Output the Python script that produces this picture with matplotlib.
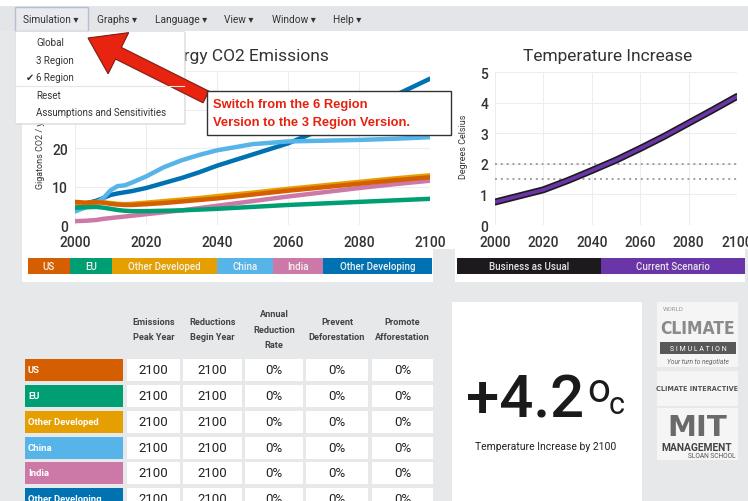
import matplotlib
matplotlib.use('Agg')
import matplotlib.pyplot as plt
from matplotlib.patches import Rectangle, FancyArrow

plt.rcParams['font.family'] = ['Roboto', 'DejaVu Sans']

# ---------------- data ----------------
years = [2000, 2003, 2006, 2008, 2010, 2012, 2014, 2016, 2020, 2025, 2030,
         2035, 2040, 2050, 2060, 2070, 2080, 2090, 2100]
regions = ['US', 'EU', 'Other Developed', 'China', 'India', 'Other Developing']
region_colors = ['#d55e00', '#009e73', '#e69f00', '#56b4e9', '#cc79a7', '#0072b2']
us = [6.0, 5.8, 5.9, 5.8, 5.5, 5.3, 5.2, 5.2, 5.4, 5.7, 6.1, 6.5, 6.9, 7.9, 8.9, 9.8, 10.7, 11.6, 12.4]
eu = [4.5, 4.6, 4.7, 4.5, 4.2, 3.9, 3.7, 3.6, 3.6, 3.7, 3.8, 4.0, 4.2, 4.7, 5.2, 5.6, 6.0, 6.4, 6.8]
other_developed = [5.6, 5.7, 6.0, 5.9, 5.7, 5.5, 5.4, 5.5, 5.8, 6.2, 6.6, 7.0, 7.5, 8.4, 9.4, 10.3, 11.2, 12.1, 12.9]
china = [3.5, 4.6, 5.8, 7.0, 9.0, 10.1, 10.3, 11.0, 12.6, 15.0, 16.8, 18.2, 19.4, 21.0, 21.7, 21.9, 22.1, 22.4, 22.8]
india = [1.0, 1.1, 1.3, 1.6, 1.8, 2.0, 2.2, 2.4, 2.8, 3.3, 3.8, 4.4, 5.0, 6.2, 7.4, 8.5, 9.6, 10.6, 11.5]
other_developing = [5.0, 5.6, 6.3, 7.0, 7.8, 8.2, 8.5, 8.8, 9.6, 10.9, 12.2, 13.7, 15.4, 18.3, 21.2, 25.0, 29.3, 33.6, 38.0]
emissions = [us, eu, other_developed, china, india, other_developing]
draw_order = [5, 3, 4, 2, 1, 0]

temp_years = [2000, 2010, 2020, 2030, 2040, 2050, 2060, 2070, 2080, 2090, 2100]
temp_bau = [0.75, 0.95, 1.15, 1.45, 1.78, 2.12, 2.5, 2.9, 3.33, 3.76, 4.2]
temp_current = [0.75, 0.95, 1.15, 1.45, 1.78, 2.12, 2.5, 2.9, 3.33, 3.76, 4.2]
temp_series = ['Business as Usual', 'Current Scenario']
temp_colors = ['#1c1a1c', '#6a35a8']
threshold_lines = [2.0, 1.5]

emis_yticks = [0, 10, 20, 30, 40]
emis_yticklabels = ['0', '10', '20', '', '']   # 30 and 40 are hidden behind the menu
temp_yticks = [0, 1, 2, 3, 4, 5]
xticks = [2000, 2020, 2040, 2060, 2080, 2100]

menu_items = ['Simulation', 'Graphs', 'Language', 'View', 'Window', 'Help']
dropdown_items = ['Global', '3 Region', '6 Region', 'Reset', 'Assumptions and Sensitivities']

table_headers = ['Emissions\nPeak Year', 'Reductions\nBegin Year', 'Annual\nReduction\nRate',
                 'Prevent\nDeforestation', 'Promote\nAfforestation']
peak_year = [2100, 2100, 2100, 2100, 2100, 2100]
reduction_begin = [2100, 2100, 2100, 2100, 2100, 2100]
annual_reduction = ['0%', '0%', '0%', '0%', '0%', '0%']
prevent_deforest = ['0%', '0%', '0%', '0%', '0%', '0%']
promote_afforest = ['0%', '0%', '0%', '0%', '0%', '0%']
temp_result = 4.2

# ---------------- figure ----------------
W, H = 748, 502
fig = plt.figure(figsize=(W / 100, H / 100), dpi=100)
fig.patch.set_facecolor('#e7e8ea')

def px_axes(z):
    a = fig.add_axes([0, 0, 1, 1], zorder=z)
    a.set_xlim(0, W)
    a.set_ylim(H, 0)
    a.axis('off')
    a.patch.set_visible(False)
    return a

bg = px_axes(0)
ov = px_axes(10)

# top white strip + menu bar
bg.add_patch(Rectangle((0, 0), W, 7, fc='white', ec='none'))
bg.add_patch(Rectangle((0, 7), W, 25, fc='#e4e5e8', ec='none'))
# white chart panels
bg.add_patch(Rectangle((22, 32), W - 22, 218, fc='white', ec='none'))
bg.add_patch(Rectangle((22, 250), 411, 33, fc='white', ec='none'))
bg.add_patch(Rectangle((455, 250), 290, 33, fc='white', ec='none'))

# ---------------- emissions chart ----------------
ax1 = fig.add_axes([75 / W, 1 - 226 / H, 355 / W, 154 / H], zorder=2)
ax1.patch.set_visible(False)
for i in draw_order:
    ax1.plot(years, emissions[i], color=region_colors[i], lw=3.2, solid_capstyle='round')
ax1.set_xlim(2000, 2100)
ax1.set_ylim(0, 40)
ax1.set_xticks(xticks)
ax1.set_yticks(emis_yticks)
ax1.set_yticklabels(emis_yticklabels)
ax1.grid(True, color='#ededed', lw=0.8)
ax1.set_axisbelow(True)
ax1.tick_params(length=0, labelsize=10, labelcolor='#333333')
ax1.tick_params(axis='x', pad=7)
ax1.tick_params(axis='y', pad=5)
for lab in ax1.get_xticklabels() + ax1.get_yticklabels():
    lab.set_fontweight('medium')
for s in ax1.spines.values():
    s.set_visible(False)
ax1.set_ylabel('Gigatons CO2 / year', fontsize=6.5, color='#333333')
ax1.yaxis.set_label_coords(-0.085, 0.5)

# ---------------- temperature chart ----------------
ax2 = fig.add_axes([495 / W, 1 - 226 / H, 242 / W, 153 / H], zorder=2)
ax2.patch.set_visible(False)
for t in threshold_lines:
    ax2.axhline(t, color='#a0a0a0', lw=1.4, ls=(0, (1, 2)))
ax2.plot(temp_years, temp_bau, color=temp_colors[0], lw=5.0, solid_capstyle='round')
ax2.plot(temp_years, temp_current, color=temp_colors[1], lw=2.6, solid_capstyle='round')
ax2.set_xlim(2000, 2100)
ax2.set_ylim(0, 5)
ax2.set_xticks(xticks)
ax2.set_yticks(temp_yticks)
ax2.grid(True, color='#ededed', lw=0.8)
ax2.set_axisbelow(True)
ax2.tick_params(length=0, labelsize=10, labelcolor='#333333')
ax2.tick_params(axis='x', pad=7)
ax2.tick_params(axis='y', pad=5)
for lab in ax2.get_xticklabels() + ax2.get_yticklabels():
    lab.set_fontweight('medium')
for s in ax2.spines.values():
    s.set_visible(False)
ax2.set_ylabel('Degrees Celsius', fontsize=6.5, color='#333333')
ax2.yaxis.set_label_coords(-0.112, 0.52)

# titles
bg.text(329, 57, 'Energy CO2 Emissions', ha='right', va='center', fontsize=12.5, color='#333333')
bg.text(608, 57, 'Temperature Increase', ha='center', va='center', fontsize=12.5, color='#333333')

# legend bars
leg_edges = [28, 70, 112, 217, 273, 323, 432]
for i, name in enumerate(regions):
    x0, x1 = leg_edges[i], leg_edges[i + 1]
    bg.add_patch(Rectangle((x0, 259), x1 - x0, 16, fc=region_colors[i], ec='none'))
    bg.text((x0 + x1) / 2, 267.5, name, ha='center', va='center', fontsize=7,
            color='#f2f2f2', fontweight='medium')
t_edges = [457, 601, 745]
for i, name in enumerate(temp_series):
    x0, x1 = t_edges[i], t_edges[i + 1]
    bg.add_patch(Rectangle((x0, 259), x1 - x0, 16, fc=temp_colors[i], ec='none'))
    bg.text((x0 + x1) / 2, 267.5, name, ha='center', va='center', fontsize=7,
            color='#e6e6e6', fontweight='medium')

# ---------------- table ----------------
col_edges = [(127, 180), (183, 242), (245, 303), (306, 368), (372, 433)]
row_tops = [360, 386, 412, 438, 463, 489]
row_h = 22
head_ys = [323, 338]
for j, h in enumerate(table_headers):
    cx = (col_edges[j][0] + col_edges[j][1]) / 2
    lines = h.split('\n')
    ys = [315, 331, 346] if len(lines) == 3 else head_ys
    for ln, yy in zip(lines, ys):
        bg.text(cx, yy, ln, ha='center', va='center', fontsize=6.6, color='#444444',
                fontweight='bold')
columns = [peak_year, reduction_begin, annual_reduction, prevent_deforest, promote_afforest]
for i, name in enumerate(regions):
    yt = row_tops[i]
    bg.add_patch(Rectangle((25, yt), 98, row_h, fc=region_colors[i], ec='none'))
    bg.text(28, yt + row_h / 2, name, ha='left', va='center', fontsize=6.8,
            color='white', fontweight='bold')
    for j, col in enumerate(columns):
        x0, x1 = col_edges[j]
        bg.add_patch(Rectangle((x0, yt), x1 - x0, row_h, fc='white', ec='none'))
        bg.text((x0 + x1) / 2, yt + row_h / 2, str(col[i]), ha='center', va='center',
                fontsize=9.5, color='#222222')

# ---------------- result box ----------------
bg.add_patch(Rectangle((452, 303), 190, 210, fc='white', ec='none'))
bg.text(466, 418, '+' + str(temp_result), ha='left', va='baseline', fontsize=43,
        color='#1a1a1a', fontweight='medium')
bg.text(587, 402, 'o', ha='left', va='baseline', fontsize=29, color='#1a1a1a')
bg.text(609, 414, 'c', ha='left', va='baseline', fontsize=22, color='#1a1a1a')
bg.text(546, 447, 'Temperature Increase by 2100', ha='center', va='center', fontsize=7.5,
        color='#222222')

# ---------------- logos ----------------
bg.add_patch(Rectangle((657, 303), 81, 65, fc='#f5f5f5', ec='none'))
bg.text(663, 310, 'WORLD', fontsize=4.5, color='#9a9a9a', va='center')
bg.text(698, 329, 'CLIMATE', fontsize=12.5, color='#8a8a8a', va='center', ha='center',
        fontweight='bold', family='DejaVu Sans', fontstretch='condensed')
bg.add_patch(Rectangle((660, 343), 76, 12, fc='#585858', ec='none'))
bg.text(698, 349.5, 'S I M U L A T I O N', fontsize=5, color='white', va='center', ha='center')
bg.text(698, 362, 'Your turn to negotiate', fontsize=4.8, color='#666666', va='center',
        ha='center', style='italic')
bg.add_patch(Rectangle((657, 372), 81, 35, fc='#f5f5f5', ec='none'))
bg.text(697, 389, 'CLIMATE INTERACTIVE', fontsize=5.2, color='#555555', va='center',
        ha='center', fontweight='bold', family='DejaVu Sans', fontstretch='condensed')
bg.add_patch(Rectangle((657, 409), 81, 52, fc='#f5f5f5', ec='none'))
bg.text(697, 428, 'MIT', fontsize=21, color='#6a6a6a', va='center', ha='center',
        fontweight='bold', family='DejaVu Sans')
bg.text(697, 448, 'MANAGEMENT', fontsize=7.4, color='#444444', va='center', ha='center',
        fontweight='bold')
bg.text(712, 457, 'SLOAN SCHOOL', fontsize=4.8, color='#555555', va='center', ha='center')

# ---------------- menu bar (overlay) ----------------
ov.add_patch(Rectangle((15, 7.5), 73, 24.5, fc='#e8eaee', ec='#b4c0cf', lw=1))
menu_x = [23, 97, 155, 224, 272, 333]
for name, x in zip(menu_items, menu_x):
    ov.text(x, 20, name + ' \u25be', ha='left', va='center', fontsize=7.3, color='#333333')

# dropdown
ov.add_patch(Rectangle((16, 33), 170, 93, fc='#d8d8d8', ec='none', alpha=0.6))
ov.add_patch(Rectangle((15, 32), 169, 92, fc='white', ec='#e0e0e0', lw=0.6))
dd_y = [43, 61, 78, 96, 113]
for name, y in zip(dropdown_items, dd_y):
    ov.text(36, y, name, ha='left', va='center', fontsize=7, color='#333333')
ov.text(26, 78, '\u2714', ha='left', va='center', fontsize=7, color='#333333',
        family=['DejaVu Sans'])
ov.plot([15, 184], [87, 87], color='#e6e6e6', lw=0.8)

# red arrow
ov.add_patch(FancyArrow(206, 98, -118, -59, width=13, head_width=46, head_length=34,
                        length_includes_head=True, fc='#e8230f', ec='#7a1c12', lw=0.8))

# annotation box
ov.add_patch(Rectangle((207, 92), 244, 44, fc='white', ec='#333333', lw=1))
ov.text(213, 105, 'Switch from the 6 Region', ha='left', va='center', fontsize=9.3,
        color='#e8200e', fontweight='bold', family='Liberation Sans')
ov.text(213, 123, 'Version to the 3 Region Version.', ha='left', va='center', fontsize=9.3,
        color='#e8200e', fontweight='bold', family='Liberation Sans')

fig.savefig('out.png', dpi=100, facecolor=fig.get_facecolor())
